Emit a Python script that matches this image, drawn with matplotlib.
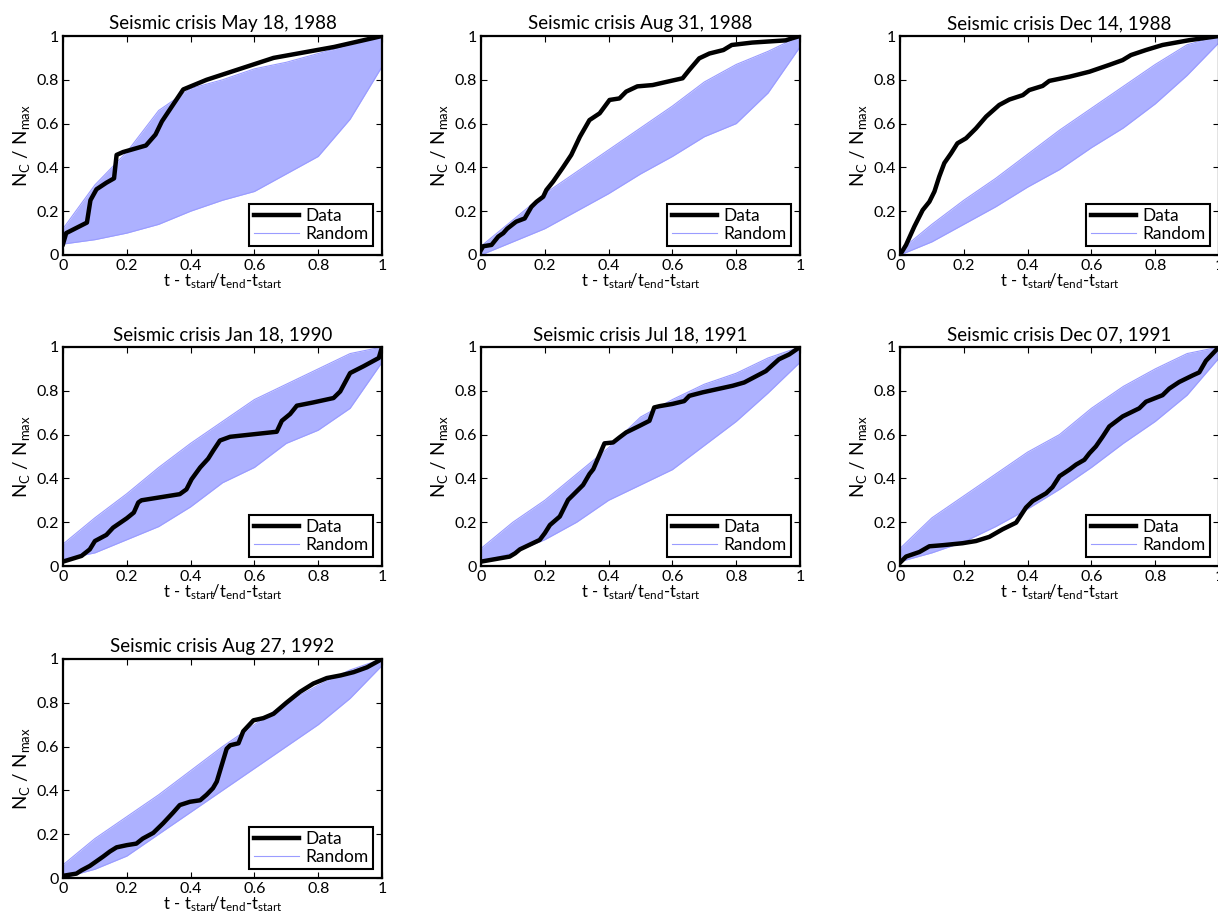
import matplotlib
matplotlib.use("Agg")
import matplotlib.pyplot as plt
import numpy as np

plt.rcParams['font.family'] = ['Lato', 'DejaVu Sans']
plt.rcParams['mathtext.fontset'] = 'custom'
plt.rcParams['mathtext.rm'] = 'Lato'
plt.rcParams['mathtext.it'] = 'Lato'

titles = ["Seismic crisis May 18, 1988", "Seismic crisis Aug 31, 1988",
          "Seismic crisis Dec 14, 1988", "Seismic crisis Jan 18, 1990",
          "Seismic crisis Jul 18, 1991", "Seismic crisis Dec 07, 1991",
          "Seismic crisis Aug 27, 1992"]

# Observed (Data) curves: normalized time, normalized cumulative count
data_x1 = [0, 0.01, 0.075, 0.086, 0.105, 0.136, 0.16, 0.168, 0.188, 0.26, 0.29, 0.31, 0.377, 0.45, 0.555, 0.66, 0.85, 1.0]
data_y1 = [0.05, 0.10, 0.148, 0.25, 0.30, 0.33, 0.35, 0.457, 0.47, 0.50, 0.55, 0.61, 0.756, 0.80, 0.85, 0.90, 0.95, 1.0]

data_x2 = [0, 0.007, 0.033, 0.054, 0.07, 0.082, 0.11, 0.137, 0.158, 0.174, 0.195, 0.205, 0.226, 0.257, 0.283, 0.31, 0.34, 0.372, 0.403, 0.434, 0.455, 0.49, 0.538, 0.58, 0.632, 0.653, 0.684, 0.716, 0.76, 0.786, 0.85, 0.955, 0.976, 1.0]
data_y2 = [0.023, 0.04, 0.046, 0.084, 0.10, 0.12, 0.152, 0.167, 0.22, 0.243, 0.266, 0.297, 0.335, 0.40, 0.457, 0.54, 0.616, 0.647, 0.708, 0.715, 0.746, 0.77, 0.776, 0.79, 0.807, 0.845, 0.898, 0.92, 0.936, 0.959, 0.97, 0.98, 0.99, 1.0]

data_x3 = [0, 0.019, 0.045, 0.071, 0.092, 0.108, 0.123, 0.139, 0.16, 0.18, 0.207, 0.238, 0.27, 0.311, 0.343, 0.385, 0.405, 0.447, 0.468, 0.531, 0.594, 0.656, 0.698, 0.724, 0.771, 0.823, 0.907, 1.0]
data_y3 = [0, 0.046, 0.13, 0.205, 0.243, 0.29, 0.358, 0.42, 0.464, 0.51, 0.533, 0.578, 0.632, 0.685, 0.71, 0.73, 0.753, 0.772, 0.795, 0.814, 0.837, 0.868, 0.89, 0.913, 0.936, 0.959, 0.981, 1.0]

data_x4 = [0, 0.058, 0.084, 0.1, 0.136, 0.157, 0.2, 0.222, 0.236, 0.246, 0.366, 0.387, 0.403, 0.43, 0.455, 0.471, 0.492, 0.524, 0.67, 0.686, 0.712, 0.733, 0.785, 0.848, 0.869, 0.9, 0.942, 0.99, 1.0]
data_y4 = [0.02, 0.046, 0.076, 0.114, 0.142, 0.175, 0.218, 0.244, 0.29, 0.30, 0.328, 0.35, 0.396, 0.45, 0.49, 0.527, 0.573, 0.59, 0.613, 0.663, 0.694, 0.732, 0.747, 0.767, 0.797, 0.881, 0.912, 0.95, 1.0]

data_x5 = [0, 0.09, 0.107, 0.122, 0.184, 0.2, 0.216, 0.247, 0.273, 0.289, 0.32, 0.34, 0.352, 0.387, 0.414, 0.434, 0.455, 0.497, 0.528, 0.543, 0.56, 0.6, 0.637, 0.653, 0.695, 0.789, 0.825, 0.893, 0.934, 0.966, 1.0]
data_y5 = [0.02, 0.043, 0.058, 0.076, 0.119, 0.15, 0.187, 0.226, 0.302, 0.325, 0.37, 0.42, 0.442, 0.56, 0.564, 0.587, 0.61, 0.64, 0.663, 0.724, 0.73, 0.74, 0.753, 0.777, 0.793, 0.823, 0.838, 0.89, 0.944, 0.966, 1.0]

data_x6 = [0, 0.019, 0.061, 0.092, 0.134, 0.196, 0.238, 0.28, 0.322, 0.364, 0.395, 0.416, 0.458, 0.478, 0.5, 0.531, 0.552, 0.578, 0.594, 0.614, 0.635, 0.656, 0.698, 0.75, 0.771, 0.823, 0.844, 0.875, 0.917, 0.938, 0.959, 1.0]
data_y6 = [0.015, 0.043, 0.064, 0.09, 0.095, 0.104, 0.114, 0.133, 0.168, 0.198, 0.267, 0.297, 0.332, 0.36, 0.41, 0.44, 0.463, 0.485, 0.515, 0.546, 0.59, 0.637, 0.683, 0.72, 0.75, 0.78, 0.81, 0.84, 0.87, 0.884, 0.937, 1.0]

data_x7 = [0, 0.042, 0.058, 0.084, 0.126, 0.147, 0.168, 0.2, 0.23, 0.25, 0.283, 0.314, 0.346, 0.366, 0.398, 0.43, 0.45, 0.47, 0.482, 0.513, 0.524, 0.55, 0.565, 0.597, 0.628, 0.66, 0.7, 0.743, 0.785, 0.827, 0.87, 0.911, 0.953, 1.0]
data_y7 = [0.01, 0.02, 0.035, 0.055, 0.098, 0.121, 0.14, 0.15, 0.157, 0.18, 0.206, 0.25, 0.30, 0.333, 0.348, 0.355, 0.38, 0.41, 0.44, 0.59, 0.606, 0.615, 0.67, 0.72, 0.73, 0.75, 0.80, 0.85, 0.888, 0.913, 0.925, 0.94, 0.962, 1.0]

# Envelope of the random (synthetic) catalogues, read at these times
env_t = [0, 0.1, 0.2, 0.3, 0.4, 0.5, 0.6, 0.7, 0.8, 0.9, 1.0]
rand_lo1 = [0.05, 0.07, 0.10, 0.14, 0.20, 0.25, 0.29, 0.37, 0.45, 0.62, 0.86]
rand_hi1 = [0.12, 0.32, 0.47, 0.66, 0.76, 0.80, 0.85, 0.88, 0.92, 0.96, 1.0]
rand_lo2 = [0.0, 0.06, 0.12, 0.20, 0.28, 0.37, 0.45, 0.54, 0.60, 0.74, 0.95]
rand_hi2 = [0.04, 0.16, 0.28, 0.38, 0.48, 0.58, 0.68, 0.79, 0.87, 0.93, 1.0]
rand_lo3 = [0.0, 0.06, 0.14, 0.22, 0.31, 0.39, 0.49, 0.58, 0.69, 0.82, 0.97]
rand_hi3 = [0.02, 0.14, 0.25, 0.35, 0.46, 0.57, 0.67, 0.77, 0.87, 0.96, 1.0]
rand_lo4 = [0.03, 0.06, 0.12, 0.18, 0.27, 0.38, 0.45, 0.56, 0.62, 0.72, 0.93]
rand_hi4 = [0.10, 0.22, 0.33, 0.45, 0.56, 0.66, 0.76, 0.83, 0.90, 0.97, 1.0]
rand_lo5 = [0.02, 0.06, 0.12, 0.20, 0.30, 0.37, 0.44, 0.55, 0.66, 0.79, 0.93]
rand_hi5 = [0.08, 0.20, 0.30, 0.42, 0.54, 0.68, 0.76, 0.83, 0.88, 0.95, 1.0]
rand_lo6 = [0.02, 0.06, 0.11, 0.18, 0.26, 0.35, 0.45, 0.56, 0.66, 0.78, 0.95]
rand_hi6 = [0.08, 0.22, 0.32, 0.42, 0.52, 0.60, 0.72, 0.82, 0.90, 0.97, 1.0]
rand_lo7 = [0.0, 0.04, 0.10, 0.20, 0.30, 0.40, 0.50, 0.60, 0.70, 0.82, 0.97]
rand_hi7 = [0.06, 0.18, 0.28, 0.38, 0.49, 0.60, 0.70, 0.80, 0.88, 0.95, 1.0]

data_x = [data_x1, data_x2, data_x3, data_x4, data_x5, data_x6, data_x7]
data_y = [data_y1, data_y2, data_y3, data_y4, data_y5, data_y6, data_y7]
rand_lo = [rand_lo1, rand_lo2, rand_lo3, rand_lo4, rand_lo5, rand_lo6, rand_lo7]
rand_hi = [rand_hi1, rand_hi2, rand_hi3, rand_hi4, rand_hi5, rand_hi6, rand_hi7]

ticks = [0, 0.2, 0.4, 0.6, 0.8, 1]
tick_labels = ["0", "0.2", "0.4", "0.6", "0.8", "1"]

W, H = 1218, 921
fig = plt.figure(figsize=(W / 100, H / 100), dpi=100)

col_left = [63, 481, 900]
row_bottom = [255, 566, 878]
aw, ah = 319, 219

blue = '#9a9cff'
fill_blue = '#adb1ff'

xlab = r'$\mathregular{t\ \text{-}\ t_{start}\!/t_{end}\text{-}t_{start}}$'
ylab = r'$\mathregular{N_C\ /\ N_{max}}$'

for i in range(7):
    r, c = divmod(i, 3)
    ax = fig.add_axes([col_left[c] / W, (H - row_bottom[r]) / H, aw / W, ah / H])
    ax.fill_between(env_t, rand_lo[i], rand_hi[i], color=fill_blue, lw=0, zorder=1)
    ax.plot(env_t, rand_lo[i], color=blue, lw=0.8, zorder=2)
    ax.plot(env_t, rand_hi[i], color=blue, lw=0.8, zorder=2, label='Random')
    ax.plot(data_x[i], data_y[i], color='black', lw=3.2, zorder=3, label='Data',
            solid_joinstyle='round')
    ax.set_xlim(0, 1)
    ax.set_ylim(0, 1)
    ax.set_xticks(ticks)
    ax.set_xticklabels(tick_labels)
    ax.set_yticks(ticks)
    ax.set_yticklabels(tick_labels)
    ax.tick_params(direction='in', top=True, right=True, length=4, width=0.8,
                   labelsize=11.5, pad=3)
    for s in ax.spines.values():
        s.set_linewidth(1.6)
    ax.set_title(titles[i], fontsize=13.5, pad=5)
    ax.set_xlabel(xlab, fontsize=12, labelpad=-1)
    ax.set_ylabel(ylab, fontsize=13.5, labelpad=3)
    h, l = ax.get_legend_handles_labels()
    leg = ax.legend([h[1], h[0]], [l[1], l[0]], loc='lower right', fontsize=12.5,
                    fancybox=False, framealpha=1, edgecolor='black',
                    borderaxespad=0.5, handlelength=2.6, borderpad=0.25,
                    labelspacing=0.1, handletextpad=0.4)
    leg.get_frame().set_linewidth(1.5)

fig.savefig('out.png', dpi=100)
